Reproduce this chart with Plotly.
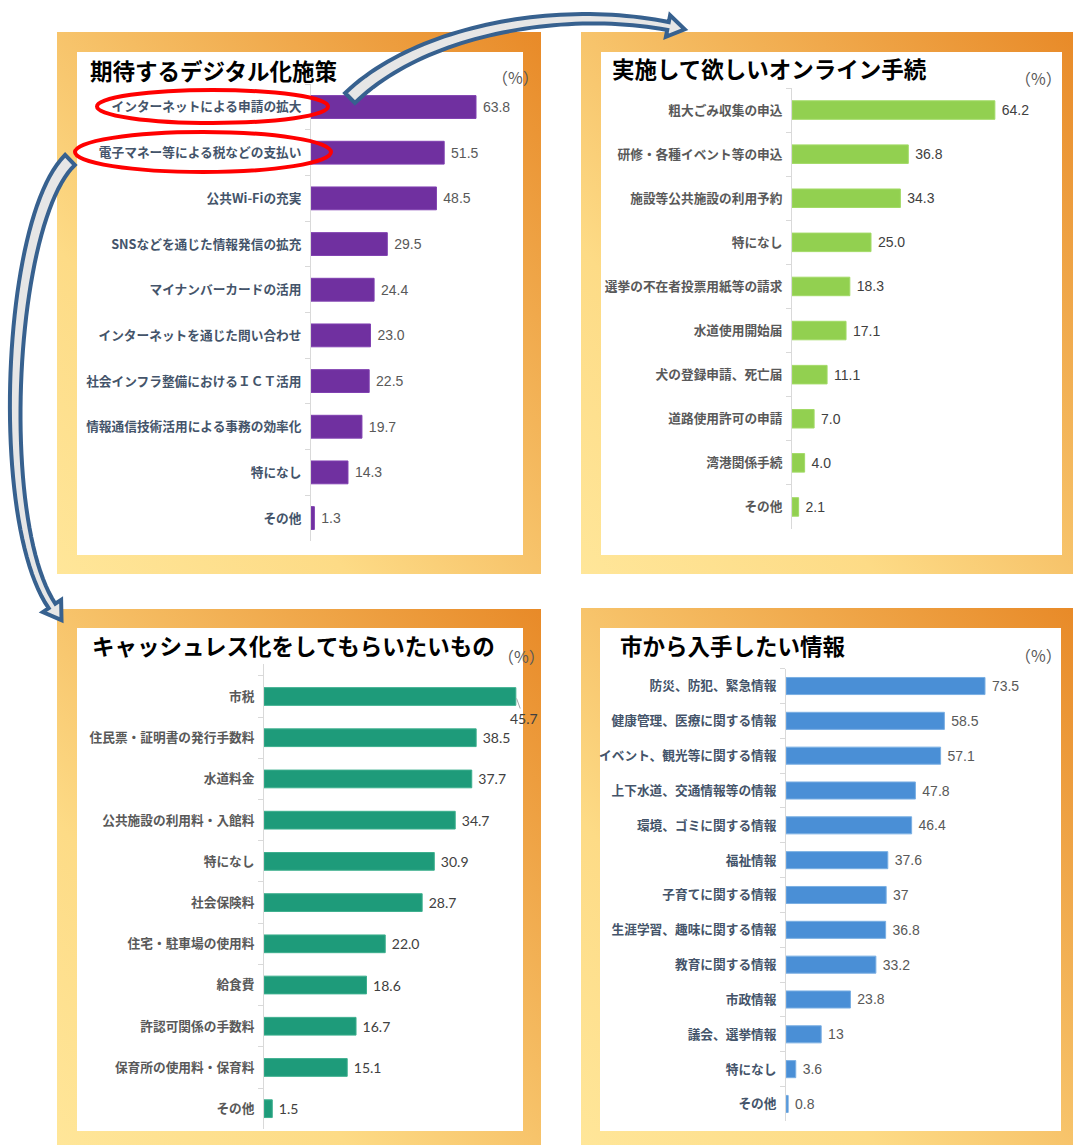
import base64
import math
import plotly.graph_objects as go

# ---------------- data ----------------
title1 = "期待するデジタル化施策"
cat1 = ["インターネットによる申請の拡大", "電子マネー等による税などの支払い", "公共Wi-Fiの充実",
        "SNSなどを通じた情報発信の拡充", "マイナンバーカードの活用", "インターネットを通じた問い合わせ",
        "社会インフラ整備におけるＩＣＴ活用", "情報通信技術活用による事務の効率化", "特になし", "その他"]
val1 = [63.8, 51.5, 48.5, 29.5, 24.4, 23.0, 22.5, 19.7, 14.3, 1.3]

title2 = "実施して欲しいオンライン手続"
cat2 = ["粗大ごみ収集の申込", "研修・各種イベント等の申込", "施設等公共施設の利用予約", "特になし",
        "選挙の不在者投票用紙等の請求", "水道使用開始届", "犬の登録申請、死亡届", "道路使用許可の申請",
        "湾港関係手続", "その他"]
val2 = [64.2, 36.8, 34.3, 25.0, 18.3, 17.1, 11.1, 7.0, 4.0, 2.1]

title3 = "キャッシュレス化をしてもらいたいもの"
cat3 = ["市税", "住民票・証明書の発行手数料", "水道料金", "公共施設の利用料・入館料", "特になし",
        "社会保険料", "住宅・駐車場の使用料", "給食費", "許認可関係の手数料", "保育所の使用料・保育料", "その他"]
val3 = [45.7, 38.5, 37.7, 34.7, 30.9, 28.7, 22.0, 18.6, 16.7, 15.1, 1.5]

title4 = "市から入手したい情報"
cat4 = ["防災、防犯、緊急情報", "健康管理、医療に関する情報", "イベント、観光等に関する情報",
        "上下水道、交通情報等の情報", "環境、ゴミに関する情報", "福祉情報", "子育てに関する情報",
        "生涯学習、趣味に関する情報", "教育に関する情報", "市政情報", "議会、選挙情報", "特になし", "その他"]
val4 = [73.5, 58.5, 57.1, 47.8, 46.4, 37.6, 37, 36.8, 33.2, 23.8, 13, 3.6, 0.8]

unit_label = "（%）"

# ---------------- layout helpers ----------------
W, H = 1075, 1145


def px(x):
    return x / W


def py(y):
    return 1 - y / H


CJK = "Noto Sans CJK JP"
fig = go.Figure()

panels = [
    dict(cats=cat1, vals=val1, color="#7030A0", lcolor="#7F3FB0", xd=(311, 517.9), xr=(0, 80),
         yd=(84.2, 540.9), bw=0.5, lab="#44546A", vfont="Liberation Sans", vcol="#595959", vsize=14, fmt="{:.1f}"),
    dict(cats=cat2, vals=val2, color="#92D050", lcolor="#A2DA66", xd=(792, 1044.8), xr=(0, 80),
         yd=(88, 529), bw=0.42, lab="#595959", vfont="Liberation Sans", vcol="#404040", vsize=14, fmt="{:.1f}"),
    dict(cats=cat3, vals=val3, color="#1E9B7A", lcolor="#3DAF8E", xd=(264, 517.5), xr=(0, 46),
         yd=(664, 1129.3), bw=0.43, lab="#595959", vfont="Lato", vcol="#404040", vsize=14, fmt="{:.1f}"),
    dict(cats=cat4, vals=val4, color="#4A8FD6", lcolor="#7AAFE3", xd=(786, 1002.6), xr=(0, 80),
         yd=(668.6, 1121.4), bw=0.49, lab="#44546A", vfont="Liberation Sans", vcol="#595959", vsize=14, fmt="{:g}"),
]

for i, p in enumerate(panels):
    n = i + 1
    xa = "x" if n == 1 else f"x{n}"
    ya = "y" if n == 1 else f"y{n}"
    texts = ["\u00a0" + p["fmt"].format(v) for v in p["vals"]]
    if n == 3:
        tpos = ["none" if j == 0 else "outside" for j in range(len(p["vals"]))]
    else:
        tpos = "outside"
    fig.add_trace(go.Bar(
        x=p["vals"], y=p["cats"], orientation="h", xaxis=xa, yaxis=ya,
        marker=dict(color=p["color"], line=dict(color=p["lcolor"], width=1)),
        width=p["bw"], text=texts, textposition=tpos, constraintext="none",
        cliponaxis=False, textfont=dict(family=p["vfont"], size=p["vsize"], color=p["vcol"]),
        hoverinfo="skip", showlegend=False,
    ))
    xk = "xaxis" if n == 1 else f"xaxis{n}"
    yk = "yaxis" if n == 1 else f"yaxis{n}"
    fig.layout[xk] = dict(domain=[px(p["xd"][0]), px(p["xd"][1])], range=list(p["xr"]),
                          visible=False, anchor=ya, fixedrange=True)
    fig.layout[yk] = dict(domain=[py(p["yd"][1]), py(p["yd"][0])], autorange="reversed",
                          anchor=xa, showline=True, linecolor="#D9D9D9", linewidth=1,
                          ticks="outside", tickson="boundaries", ticklen=5, tickcolor="#D9D9D9",
                          showgrid=False, zeroline=False, fixedrange=True,
                          tickfont=dict(family=CJK, size=12.7, color=p["lab"], weight="bold"),
                          ticklabelstandoff=6)

# special leader-line label for the first bar of panel 3
fig.add_annotation(x=val3[0], y=cat3[0], xref="x3", yref="y3", text=panels[2]["fmt"].format(val3[0]),
                   showarrow=True, arrowhead=0, arrowwidth=1, arrowcolor="#A6A6A6", ax=8, ay=22,
                   standoff=2, font=dict(family="Lato", size=14, color="#404040"))

# ---------------- frames (gradient rings) ----------------
frames = [
    ((57, 32, 541, 574), (77, 52, 523, 555)),
    ((581, 32, 1073, 574), (601, 52, 1062, 555)),
    ((57, 609, 541, 1145), (77, 628, 523, 1131)),
    ((581, 608, 1073, 1145), (600, 628, 1061, 1131)),
]
for (o, inn) in frames:
    ow, oh = o[2] - o[0], o[3] - o[1]
    ix, iy = inn[0] - o[0], inn[1] - o[1]
    iw, ih = inn[2] - inn[0], inn[3] - inn[1]
    svg = (f'<svg xmlns="http://www.w3.org/2000/svg" width="{ow}" height="{oh}" viewBox="0 0 {ow} {oh}">'
           '<defs><linearGradient id="g" x1="0" y1="1" x2="1" y2="0">'
           '<stop offset="0" stop-color="#FFE699"/><stop offset="0.3" stop-color="#FDDB86"/>'
           '<stop offset="1" stop-color="#E88A28"/></linearGradient></defs>'
           f'<rect x="0" y="0" width="{ow}" height="{oh}" fill="url(#g)"/>'
           f'<rect x="{ix}" y="{iy}" width="{iw}" height="{ih}" fill="#FFFFFF"/></svg>')
    src = "data:image/svg+xml;base64," + base64.b64encode(svg.encode()).decode()
    fig.add_layout_image(source=src, xref="paper", yref="paper", x=px(o[0]), y=py(o[1]),
                         sizex=ow / W, sizey=oh / H, xanchor="left", yanchor="top",
                         sizing="stretch", layer="below")

# ---------------- titles and unit labels ----------------
titles = [(title1, 88, 70), (title2, 610, 68), (title3, 90, 645), (title4, 618, 645)]
for t, x, y in titles:
    fig.add_annotation(text=t, x=px(x), y=py(y), xref="paper", yref="paper", xanchor="left",
                       yanchor="middle", showarrow=False,
                       font=dict(family=CJK, size=22.5, color="#000000", weight="bold"))
units = [(515, 77), (1038, 78), (521, 656), (1038, 655)]
for x, y in units:
    fig.add_annotation(text=unit_label, x=px(x), y=py(y), xref="paper", yref="paper", xanchor="center",
                       yanchor="middle", showarrow=False,
                       font=dict(family=CJK, size=16, color="#595959"))


# ---------------- curved block arrows ----------------
def arrow_path(P, w0, w1, hw, hl, steps=48):
    def pt(t):
        a = (1 - t) ** 3
        b = 3 * (1 - t) ** 2 * t
        c = 3 * (1 - t) * t ** 2
        d = t ** 3
        return (a * P[0][0] + b * P[1][0] + c * P[2][0] + d * P[3][0],
                a * P[0][1] + b * P[1][1] + c * P[2][1] + d * P[3][1])

    def tan(t):
        dx = 3 * (1 - t) ** 2 * (P[1][0] - P[0][0]) + 6 * (1 - t) * t * (P[2][0] - P[1][0]) + 3 * t ** 2 * (P[3][0] - P[2][0])
        dy = 3 * (1 - t) ** 2 * (P[1][1] - P[0][1]) + 6 * (1 - t) * t * (P[2][1] - P[1][1]) + 3 * t ** 2 * (P[3][1] - P[2][1])
        L = math.hypot(dx, dy)
        return dx / L, dy / L

    left, right = [], []
    for k in range(steps + 1):
        t = k / steps
        x, y = pt(t)
        tx, ty = tan(t)
        nx, ny = -ty, tx
        w = (w0 + (w1 - w0) * t) / 2
        left.append((x + nx * w, y + ny * w))
        right.append((x - nx * w, y - ny * w))
    ex, ey = pt(1)
    tx, ty = tan(1)
    nx, ny = -ty, tx
    head = [(ex + nx * hw, ey + ny * hw), (ex + tx * hl, ey + ty * hl), (ex - nx * hw, ey - ny * hw)]
    pts = left + head + right[::-1]
    s = "M " + " L ".join(f"{px(a):.5f},{py(b):.5f}" for a, b in pts) + " Z"
    return s


arrow1 = [(350, 98), (420, 30), (560, 5), (668, 26)]
arrow2 = [(70, 160), (8, 220), (-6, 520), (52, 606)]
for ctrl in (arrow1, arrow2):
    fig.add_shape(type="path", path=arrow_path(ctrl, 14, 8, 11, 17), xref="paper", yref="paper",
                  line=dict(color="#37618F", width=4), fillcolor="#E6E6E6", layer="above")

# ---------------- red ellipses ----------------
for (x0, y0, x1, y1) in [(97, 90, 328, 123), (75, 132, 331, 172)]:
    fig.add_shape(type="circle", xref="paper", yref="paper", x0=px(x0), x1=px(x1), y0=py(y1), y1=py(y0),
                  line=dict(color="#FF0000", width=4), fillcolor="rgba(0,0,0,0)", layer="above")

fig.update_layout(width=W, height=H, margin=dict(l=0, r=0, t=0, b=0),
                  paper_bgcolor="#FFFFFF", plot_bgcolor="rgba(0,0,0,0)", bargap=0.5)

fig.write_html("out.html", config={"displayModeBar": False},
               post_script="document.body.style.margin='0';")
